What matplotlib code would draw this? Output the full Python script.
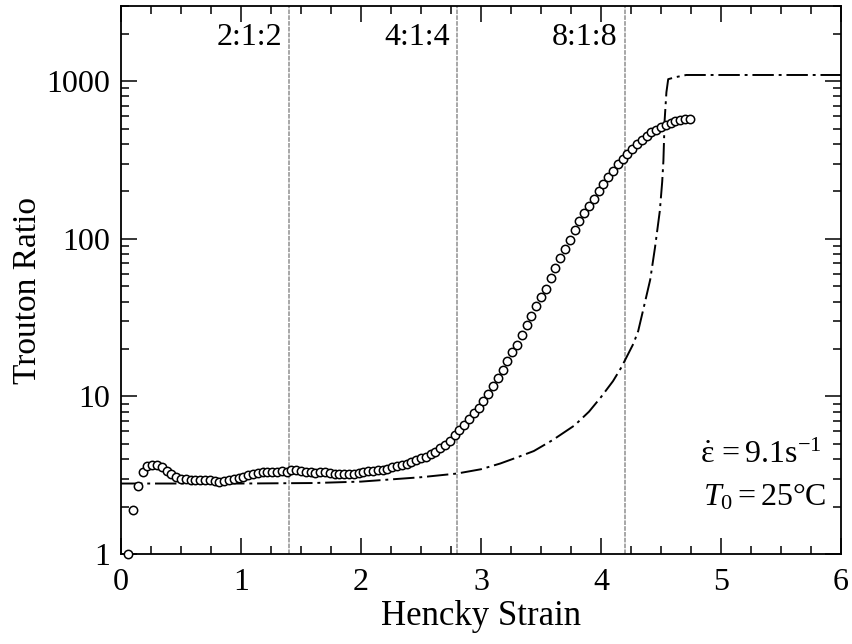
import matplotlib
matplotlib.use("Agg")
import matplotlib.pyplot as plt
from matplotlib.ticker import FixedLocator, NullFormatter, MultipleLocator, LogLocator

plt.rcParams['font.family'] = ['Liberation Serif', 'DejaVu Serif']
plt.rcParams['mathtext.fontset'] = 'custom'
plt.rcParams['mathtext.rm'] = 'Liberation Serif'
plt.rcParams['mathtext.it'] = 'Liberation Serif:italic'

# measured Trouton ratio (open circles)
strain = [0.06, 0.10, 0.14, 0.18, 0.22, 0.26, 0.30, 0.34, 0.38, 0.42,
          0.46, 0.50, 0.54, 0.58, 0.62, 0.66, 0.70, 0.74, 0.78, 0.82,
          0.86, 0.90, 0.94, 0.98, 1.02, 1.06, 1.10, 1.14, 1.18, 1.22,
          1.26, 1.30, 1.34, 1.38, 1.42, 1.46, 1.50, 1.54, 1.58, 1.62,
          1.66, 1.70, 1.74, 1.78, 1.82, 1.86, 1.90, 1.94, 1.98, 2.02,
          2.06, 2.10, 2.14, 2.18, 2.22, 2.26, 2.30, 2.34, 2.38, 2.42,
          2.46, 2.50, 2.54, 2.58, 2.62, 2.66, 2.70, 2.74, 2.78, 2.82,
          2.86, 2.90, 2.94, 2.98, 3.02, 3.06, 3.10, 3.14, 3.18, 3.22,
          3.26, 3.30, 3.34, 3.38, 3.42, 3.46, 3.50, 3.54, 3.58, 3.62,
          3.66, 3.70, 3.74, 3.78, 3.82, 3.86, 3.90, 3.94, 3.98, 4.02,
          4.06, 4.10, 4.14, 4.18, 4.22, 4.26, 4.30, 4.34, 4.38, 4.42,
          4.46, 4.50, 4.54, 4.58, 4.62, 4.66, 4.70, 4.74]
trouton = [1.0, 1.9, 2.7, 3.3, 3.6, 3.65, 3.65, 3.55, 3.35, 3.2,
           3.06, 3.0, 3.0, 2.96, 2.94, 2.94, 2.94, 2.94, 2.92, 2.87,
           2.92, 2.95, 2.98, 3.03, 3.1, 3.16, 3.2, 3.25, 3.3, 3.3,
           3.3, 3.32, 3.38, 3.3, 3.42, 3.4, 3.38, 3.33, 3.3, 3.28,
           3.3, 3.3, 3.26, 3.22, 3.23, 3.22, 3.22, 3.24, 3.27, 3.3,
           3.35, 3.36, 3.4, 3.43, 3.48, 3.56, 3.62, 3.66, 3.7, 3.82,
           3.94, 4.05, 4.15, 4.3, 4.45, 4.7, 4.95, 5.25, 5.7, 6.15,
           6.6, 7.2, 7.8, 8.5, 9.3, 10.4, 11.6, 13.0, 14.8, 16.8,
           19.0, 21.2, 24.5, 28.3, 32.5, 37.5, 42.5, 48, 56, 65,
           75, 86, 98, 113, 130, 146, 162, 178, 200, 222,
           245, 270, 297, 322, 347, 372, 397, 422, 448, 473,
           493, 512, 530, 545, 556, 565, 572, 577]

# model prediction (dash-dot line)
model_strain = [0.0, 1.0, 1.6, 2.0, 2.24, 2.5, 2.8, 3.0, 3.16, 3.3,
                3.44, 3.6, 3.78, 3.9, 4.0, 4.1, 4.17, 4.27, 4.31, 4.35,
                4.41, 4.45, 4.49, 4.51, 4.52, 4.53, 4.545, 4.56, 4.62, 4.71, 6.0]
model_trouton = [2.8, 2.8, 2.82, 2.88, 2.97, 3.07, 3.24, 3.45, 3.75, 4.1,
                 4.5, 5.3, 6.55, 8.0, 9.9, 12.5, 15.3, 21.6, 26, 35,
                 55, 88, 150, 230, 312, 560, 850, 1030, 1060, 1095, 1095]

# cross-slot geometry markers
geom_strain = [1.4, 2.8, 4.2]
geom_labels = ['2:1:2', '4:1:4', '8:1:8']

fig = plt.figure(figsize=(8.53, 6.44), dpi=100)
ax = fig.add_axes([121 / 853, 1 - 554 / 644, 720 / 853, 548 / 644])

for xs, lab in zip(geom_strain, geom_labels):
    ax.axvline(xs, color='#909090', lw=1.1, ls=(0, (3, 0.8)), zorder=1)
    ax.text(xs - 0.06, 1900, lab, ha='right', va='center', fontsize=23)

ax.plot(model_strain, model_trouton, color='black', lw=1.4,
        ls=(0, (11, 2.5, 1.5, 2.5)), zorder=2)
ax.plot(strain, trouton, 'o', mfc='white', mec='black', ms=6, mew=1.1,
        zorder=3, clip_on=False)

ax.set_yscale('log')
ax.set_xlim(0, 6)
ax.set_ylim(1, 3000)
ax.xaxis.set_major_locator(MultipleLocator(1))
ax.xaxis.set_minor_locator(MultipleLocator(0.25))
ax.yaxis.set_major_locator(FixedLocator([1, 10, 100, 1000]))
ax.yaxis.set_major_formatter(plt.FixedFormatter(['1', '10', '100', '1000']))
ax.yaxis.set_minor_locator(LogLocator(base=10, subs=range(2, 10)))
ax.yaxis.set_minor_formatter(NullFormatter())

ax.tick_params(which='both', direction='in', top=True, right=True,
               labelsize=23, width=1.1)
ax.tick_params(which='major', length=11.5)
ax.tick_params(which='minor', length=5.8)
ax.tick_params(axis='x', which='major', pad=10)
ax.tick_params(axis='y', which='major', pad=8)
for sp in ax.spines.values():
    sp.set_linewidth(1.3)

ax.set_xlabel('Hencky Strain', fontsize=25, labelpad=2)
ax.set_ylabel('Trouton Ratio', fontsize=24)
ax.yaxis.set_label_coords(-0.108, 0.48)

ax.text(5.84, 4.2, r'$\dot{\mathrm{\varepsilon}}\,= 9.1\mathrm{s}^{-1}$',
        ha='right', va='center', fontsize=23)
ax.text(5.88, 2.3, r'$T_0 = 25\mathrm{°C}$', ha='right', va='center', fontsize=23)

fig.savefig('out.png', dpi=100)
